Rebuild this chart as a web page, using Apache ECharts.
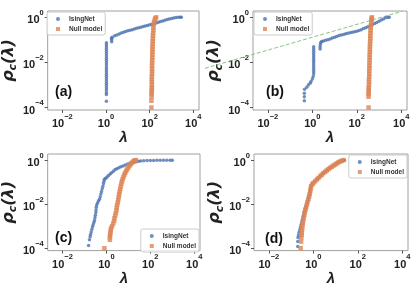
<!DOCTYPE html>
<html><head><meta charset="utf-8">
<script src="https://cdn.jsdelivr.net/npm/echarts@6/dist/echarts.min.js"></script>
<style>html,body{margin:0;padding:0;background:#fff}#c{width:415px;height:287px}</style>
</head><body><div id="c"></div>
<script>
// All points, stored as [log10 λ, log10 ρc(λ)]
const isingA = [[0.02,-3.72],[0.02,-3.42],[0.02,-3.33],[0.02,-3.22],[0.02,-3.12],
[0.02,-3.02],[0.02,-2.92],[0.02,-2.82],[0.02,-2.72],[0.02,-2.62],[0.02,-2.52],[0.02,-2.42],[0.02,-2.32],[0.02,-2.22],[0.02,-2.12],[0.02,-2.02],[0.02,-1.92],[0.02,-1.82],[0.02,-1.72],[0.02,-1.62],[0.02,-1.52],[0.02,-1.42],[0.02,-1.32],[0.02,-1.22],[0.02,-1.13],
[0.26,-1.08],[0.26,-1.00],[0.26,-0.93],[0.28,-0.88],
[0.40,-0.82],[0.50,-0.78],[0.60,-0.74],[0.70,-0.70],[0.80,-0.66],[0.90,-0.63],[1.00,-0.60],[1.10,-0.57],[1.20,-0.55],[1.30,-0.52],[1.40,-0.49],[1.50,-0.46],[1.60,-0.44],[1.70,-0.41],[1.80,-0.39],[1.90,-0.36],[2.00,-0.33],[2.10,-0.31],[2.20,-0.28],[2.30,-0.25],[2.40,-0.22],[2.50,-0.19],[2.60,-0.16],[2.70,-0.13],[2.80,-0.10],[2.90,-0.07],[3.00,-0.05],[3.10,-0.03],[3.20,-0.01],[3.30,0],[3.40,0],[3.45,0]];
const nullA = [[2.08,-4.0],[2.08,-3.7],[2.09,-3.52],[2.09,-3.4],[2.09,-3.3],[2.10,-3.2],[2.10,-3.1],[2.10,-2.98],[2.10,-2.86],[2.10,-2.74],[2.10,-2.62],[2.11,-2.50],[2.11,-2.38],[2.11,-2.26],[2.11,-2.14],[2.11,-2.02],[2.12,-1.90],[2.12,-1.78],[2.12,-1.66],[2.13,-1.54],[2.13,-1.42],[2.13,-1.30],[2.14,-1.18],[2.14,-1.06],[2.15,-0.94],[2.15,-0.82],[2.16,-0.70],[2.17,-0.58],[2.17,-0.46],[2.18,-0.34],[2.20,-0.22],[2.23,-0.12],[2.26,-0.05],[2.30,0]];
const isingB = [[-0.36,-3.70],[-0.36,-3.52],[-0.36,-3.37],[-0.35,-3.19],[-0.25,-3.10],[-0.18,-3.00],[-0.10,-2.92],[-0.06,-2.85],[0.00,-2.73],[0.04,-2.62],[0.06,-2.50],[0.06,-2.40],[0.06,-2.30],[0.06,-2.20],[0.06,-2.10],[0.06,-2.00],[0.06,-1.90],[0.06,-1.80],[0.06,-1.70],[0.06,-1.60],[0.06,-1.50],[0.06,-1.40],[0.06,-1.30],
[0.35,-1.40],[0.35,-1.30],[0.36,-1.20],[0.38,-1.12],
[0.42,-1.07],[0.50,-1.05],[0.60,-1.02],[0.70,-0.99],[0.80,-0.96],[0.90,-0.92],[1.00,-0.88],[1.10,-0.85],[1.20,-0.81],[1.30,-0.78],[1.40,-0.76],[1.50,-0.73],[1.60,-0.71],[1.70,-0.68],[1.80,-0.66],[1.90,-0.64],[2.00,-0.62],[2.10,-0.59],[2.20,-0.55],[2.30,-0.50],[2.40,-0.46],[2.50,-0.42],[2.60,-0.37],[2.70,-0.32],[2.80,-0.27],[2.90,-0.23],[3.00,-0.18],[3.10,-0.12],[3.20,-0.07],[3.30,-0.02],[3.40,0],[3.46,0]];
const nullB = [[2.53,-4.0],[2.53,-3.52],[2.53,-3.40],[2.54,-3.30],[2.54,-3.20],[2.54,-3.10],[2.55,-2.98],[2.55,-2.86],[2.55,-2.74],[2.56,-2.62],[2.56,-2.50],[2.56,-2.38],[2.57,-2.26],[2.57,-2.14],[2.57,-2.02],[2.58,-1.90],[2.58,-1.78],[2.58,-1.66],[2.59,-1.54],[2.59,-1.42],[2.59,-1.30],[2.60,-1.18],[2.60,-1.06],[2.61,-0.94],[2.61,-0.82],[2.62,-0.70],[2.62,-0.58],[2.63,-0.46],[2.64,-0.34],[2.65,-0.22],[2.66,-0.12],[2.67,-0.05],[2.68,0]];
const fitB = [[-4.83,-2.26],[4.05,0.27]];
const isingC = [[-0.81,-3.88],[-0.77,-3.62],[-0.74,-3.48],[-0.72,-3.38],[-0.69,-3.26],[-0.66,-3.14],[-0.63,-3.03],[-0.60,-2.93],[-0.57,-2.83],[-0.54,-2.74],[-0.52,-2.62],[-0.50,-2.50],[-0.48,-2.38],[-0.47,-2.26],[-0.46,-2.14],[-0.44,-2.04],[-0.40,-1.95],[-0.36,-1.86],[-0.31,-1.78],[-0.28,-1.66],[-0.25,-1.54],[-0.22,-1.42],[-0.19,-1.30],[-0.16,-1.18],[-0.13,-1.06],[-0.11,-0.96],[-0.09,-0.87],[-0.03,-0.82],[0.03,-0.77],[0.10,-0.70],[0.17,-0.63],[0.24,-0.57],[0.32,-0.50],[0.40,-0.43],[0.48,-0.39],[0.57,-0.34],[0.66,-0.30],[0.76,-0.26],[0.86,-0.22],[0.97,-0.18],[1.07,-0.14],[1.17,-0.11],[1.26,-0.09],[1.36,-0.07],[1.46,-0.05],[1.56,-0.04],[1.70,-0.03],[1.85,-0.02],[2.00,-0.01],[2.15,-0.01],[2.30,0],[2.45,0],[2.60,0],[2.75,0],[2.90,0],[3.00,0]];
const nullC = [[-0.09,-4.0],[0.16,-3.62],[0.16,-3.50],[0.17,-3.40],[0.18,-3.30],[0.20,-3.20],[0.21,-3.10],[0.26,-3.00],[0.31,-2.88],[0.35,-2.76],[0.37,-2.64],[0.40,-2.52],[0.43,-2.40],[0.46,-2.28],[0.47,-2.16],[0.49,-2.04],[0.52,-1.92],[0.54,-1.80],[0.56,-1.68],[0.58,-1.56],[0.60,-1.44],[0.63,-1.32],[0.65,-1.20],[0.68,-1.08],[0.71,-0.96],[0.74,-0.86],[0.78,-0.76],[0.82,-0.66],[0.86,-0.57],[0.91,-0.48],[0.96,-0.39],[1.01,-0.31],[1.06,-0.24],[1.11,-0.18],[1.16,-0.12],[1.21,-0.07],[1.26,-0.04],[1.30,-0.01],[1.34,0]];
const isingD = [[-0.70,-3.92],[-0.70,-3.70],[-0.69,-3.52],[-0.67,-3.40],[-0.64,-3.28],[-0.61,-3.16],[-0.58,-3.04],[-0.55,-2.92],[-0.52,-2.80],[-0.49,-2.68],[-0.46,-2.56],[-0.43,-2.44],[-0.40,-2.32],[-0.37,-2.20],[-0.33,-2.08],[-0.29,-1.96],[-0.26,-1.84],[-0.23,-1.72],[-0.20,-1.60],[-0.17,-1.48],[-0.14,-1.36],[-0.12,-1.24],[-0.09,-1.14],[-0.03,-1.06],[0.05,-0.98],[0.15,-0.88],[0.25,-0.79],[0.35,-0.69],[0.45,-0.60],[0.55,-0.52],[0.65,-0.44],[0.75,-0.36],[0.85,-0.29],[0.95,-0.22],[1.05,-0.15],[1.15,-0.09],[1.25,-0.04],[1.35,-0.01],[1.40,0]];
const nullD = [[-0.57,-4.0],[-0.55,-3.70],[-0.54,-3.52],[-0.53,-3.40],[-0.52,-3.30],[-0.51,-3.18],[-0.50,-3.06],[-0.49,-2.95],[-0.47,-2.84],[-0.45,-2.72],[-0.43,-2.60],[-0.40,-2.48],[-0.38,-2.36],[-0.35,-2.24],[-0.32,-2.13],[-0.29,-2.02],[-0.26,-1.90],[-0.22,-1.78],[-0.19,-1.66],[-0.16,-1.54],[-0.14,-1.42],[-0.12,-1.30],[-0.10,-1.19],[-0.05,-1.10],[0.00,-1.04],[0.08,-0.96],[0.16,-0.88],[0.23,-0.81],[0.31,-0.73],[0.38,-0.66],[0.45,-0.59],[0.53,-0.53],[0.60,-0.47],[0.68,-0.41],[0.75,-0.35],[0.83,-0.30],[0.90,-0.25],[0.98,-0.20],[1.05,-0.15],[1.13,-0.10],[1.20,-0.06],[1.28,-0.03],[1.35,0]];

const xTickExps = [-2, 0, 2, 4];
const yTickExps = [-4, -2, 0];
const xRangeExp = [-2.67, 4.26];
const yRangeExp = [-4.11, 0.28];
const fitXRangeExp = [-4.83, 4.26];   // wider frame for the fit line drawn past the left spine in (b)
const panelLabels = ['(a)', '(b)', '(c)', '(d)'];
const seriesNames = ['IsingNet', 'Null model'];
const xName = 'λ';

const toXY = arr => arr.map(p => [Math.pow(10, p[0]), Math.pow(10, p[1])]);
const FONT = 'Liberation Sans';
const BLUE = '#4c72b0', ORANGE = '#dd8452';

function powLabel(v, exps) {
  const e = Math.round(Math.log10(v));
  if (Math.abs(Math.log10(v) - e) > 0.01 || exps.indexOf(e) < 0) return '';
  return '{b|10}{s|' + (e < 0 ? '\u2212' + (-e) : e) + '}';
}
const rich = {
  b: {fontFamily: FONT, fontWeight: 'bold', fontSize: 11, lineHeight: 17, verticalAlign: 'bottom', color: '#222'},
  s: {fontFamily: FONT, fontWeight: 'bold', fontSize: 7.5, lineHeight: 8, verticalAlign: 'top', color: '#222'}
};

const grids = [
  {left: 46, top: 11, width: 153, height: 99},
  {left: 253, top: 11, width: 154, height: 99},
  {left: 46, top: 154, width: 154, height: 98},
  {left: 254, top: 154, width: 154, height: 98}
].map(g => Object.assign({show: true, borderColor: '#a0a0a0', borderWidth: 1}, g));
// hidden frame sharing panel (b)'s scale, extended to the left
grids.push({left: 205, top: 11, width: 202, height: 99, show: false});

const xAxes = [], yAxes = [];
for (let i = 0; i < 4; i++) {
  xAxes.push({
    type: 'log', logBase: 100, gridIndex: i,
    min: Math.pow(10, xRangeExp[0]), max: Math.pow(10, xRangeExp[1]),
    name: xName, nameLocation: 'middle', nameGap: 16,
    nameTextStyle: {fontFamily: FONT, fontWeight: 'bold', fontStyle: 'italic', fontSize: 15, color: '#222'},
    axisLine: {show: false}, splitLine: {show: false}, minorTick: {show: false},
    axisTick: {show: true, length: 3, lineStyle: {color: '#555'}},
    axisLabel: {margin: 2.5, showMinLabel: false, showMaxLabel: false, formatter: v => powLabel(v, xTickExps), rich}
  });
  yAxes.push({
    type: 'log', logBase: 100, gridIndex: i,
    min: Math.pow(10, yRangeExp[0]), max: Math.pow(10, yRangeExp[1]),
    name: '{r|ρ}{c|c}{r|(λ)}', nameLocation: 'middle', nameGap: 24, nameRotate: 90,
    nameTextStyle: {
      rich: {
        r: {fontFamily: 'DejaVu Sans', fontWeight: 'bold', fontStyle: 'italic', fontSize: 16, lineHeight: 20, color: '#222'},
        c: {fontFamily: 'DejaVu Sans', fontWeight: 'bold', fontStyle: 'italic', fontSize: 11, lineHeight: 11, verticalAlign: 'bottom', color: '#222'}
      }
    },
    axisLine: {show: false}, splitLine: {show: false}, minorTick: {show: false},
    axisTick: {show: true, length: 3, lineStyle: {color: '#555'}},
    axisLabel: {margin: 4, showMinLabel: false, showMaxLabel: false, formatter: v => powLabel(v, yTickExps), rich}
  });
}
xAxes.push({type: 'log', logBase: 100, gridIndex: 4, show: false,
  min: Math.pow(10, fitXRangeExp[0]), max: Math.pow(10, fitXRangeExp[1])});
yAxes.push({type: 'log', logBase: 100, gridIndex: 4, show: false,
  min: Math.pow(10, yRangeExp[0]), max: Math.pow(10, yRangeExp[1])});

const data = [[isingA, nullA], [isingB, nullB], [isingC, nullC], [isingD, nullD]];
const series = [];
series.push({type: 'line', name: 'fit', xAxisIndex: 4, yAxisIndex: 4, data: toXY(fitB), clip: false,
  symbol: 'none', silent: true, z: 1, lineStyle: {color: '#86c686', width: 1, type: [4, 2]}});
data.forEach((pair, i) => {
  series.push({type: 'scatter', name: seriesNames[0], xAxisIndex: i, yAxisIndex: i, data: toXY(pair[0]),
    symbol: 'circle', symbolSize: 3.5, itemStyle: {color: BLUE}, silent: true, z: 2});
  series.push({type: 'scatter', name: seriesNames[1], xAxisIndex: i, yAxisIndex: i, data: toXY(pair[1]),
    symbol: 'rect', symbolSize: 4.5, itemStyle: {color: ORANGE}, silent: true, z: 3});
});

const legendBase = {
  orient: 'vertical', itemWidth: 4, itemHeight: 4, itemGap: 2,
  data: [{name: seriesNames[0], icon: 'circle'}, {name: seriesNames[1], icon: 'rect'}],
  textStyle: {fontFamily: FONT, fontWeight: 'bold', fontSize: 6.5, lineHeight: 8, color: '#333', padding: [0, 0, 0, 4]},
  padding: [3, 3, 2, 9], borderColor: '#cccccc', borderWidth: 1, borderRadius: 2,
  backgroundColor: 'rgba(255,255,255,0.8)', selectedMode: false
};
const legends = [
  Object.assign({}, legendBase, {left: 47, top: 12}),
  Object.assign({}, legendBase, {left: 254, top: 12}),
  Object.assign({}, legendBase, {right: 216, bottom: 35}),
  Object.assign({}, legendBase, {right: 8, top: 155})
];

const labelPos = [[55, 85], [266, 85], [55, 231], [265, 232]];
const graphic = panelLabels.map((t, i) => ({
  type: 'text', left: labelPos[i][0], top: labelPos[i][1], z: 10,
  style: {text: t, font: 'bold 14px "Liberation Sans"', fill: '#111'}
}));

const chart = echarts.init(document.getElementById('c'), null, {renderer: 'canvas'});
chart.setOption({
  animation: false, backgroundColor: '#fff',
  grid: grids, xAxis: xAxes, yAxis: yAxes, series, legend: legends, graphic
});
</script></body></html>
